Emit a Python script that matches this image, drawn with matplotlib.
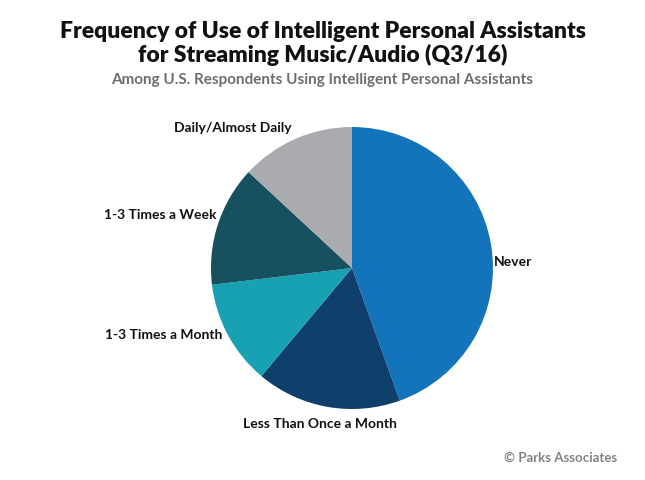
import matplotlib
matplotlib.use("Agg")
import matplotlib.pyplot as plt

# share of respondents (%), clockwise from 12 o'clock
categories = ["Never", "Less Than Once a Month", "1-3 Times a Month",
              "1-3 Times a Week", "Daily/Almost Daily"]
shares = [44.5, 16.6, 12.0, 13.8, 13.1]
colors = ["#1474bb", "#0f3f6b", "#17a1b2", "#17505f", "#a9abae"]

plt.rcParams['font.family'] = ['Lato', 'DejaVu Sans']

fig = plt.figure(figsize=(6.45, 4.8), dpi=100)
fig.patch.set_facecolor("white")

ax = fig.add_axes([0.3271, 0.1479, 0.4372, 0.5875])
ax.pie(shares, colors=colors, startangle=90, counterclock=False,
       wedgeprops=dict(linewidth=0))
ax.set_xlim(-1, 1)
ax.set_ylim(-1, 1)
ax.set_aspect("equal")
ax.axis("off")

fig.text(0.5, 1 - 31/480, "Frequency of Use of Intelligent Personal Assistants",
         ha="center", va="center", fontsize=16.5, fontweight="heavy", color="#111111")
fig.text(0.5, 1 - 55/480, "for Streaming Music/Audio (Q3/16)",
         ha="center", va="center", fontsize=16.5, fontweight="heavy", color="#111111")
fig.text(0.5, 1 - 80/480, "Among U.S. Respondents Using Intelligent Personal Assistants",
         ha="center", va="center", fontsize=11, fontweight="bold", color="#6d6e71")

# slice labels
lab = dict(fontsize=10, fontweight="bold", color="#111111", va="center")
fig.text(494/645, 1 - 262/480, categories[0], ha="left", **lab)
fig.text(320/645, 1 - 424/480, categories[1], ha="center", **lab)
fig.text(222/645, 1 - 335/480, categories[2], ha="right", **lab)
fig.text(216/645, 1 - 215/480, categories[3], ha="right", **lab)
fig.text(292/645, 1 - 128/480, categories[4], ha="right", **lab)

fig.text(617/645, 1 - 458/480, "\u00a9 Parks Associates", ha="right", va="center",
         fontsize=9.5, fontweight="bold", color="#808285")

fig.savefig("out.png", dpi=100)
